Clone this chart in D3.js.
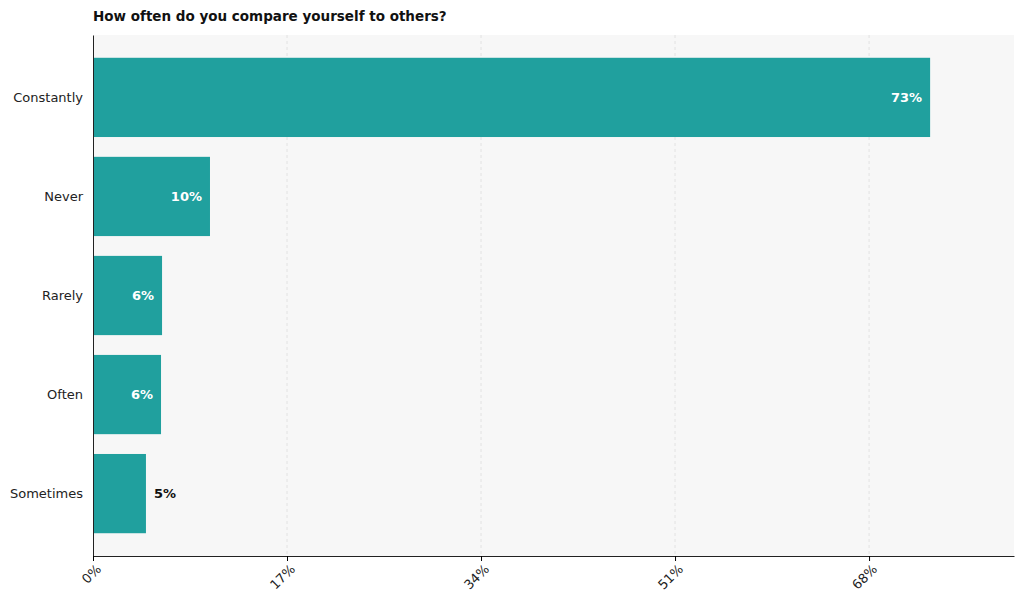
<!DOCTYPE html>
<html><head><meta charset="utf-8">
<script src="https://cdn.jsdelivr.net/npm/d3@7"></script>
<style>body{margin:0;background:#fff}svg{font-family:"DejaVu Sans",sans-serif}</style>
</head><body><div id="chart"></div>
<script>
const categories = ["Constantly", "Never", "Rarely", "Often", "Sometimes"];
const values = [73.35, 10.25, 6.05, 5.96, 4.64];
const labels = ["73%", "10%", "6%", "6%", "5%"];
const tickValues = [0, 17, 34, 51, 68];

const W = 1024, H = 609,
  margin = {top: 35, right: 10, bottom: 53, left: 93};

const svg = d3.select("#chart").append("svg").attr("width", W).attr("height", H);

const x = d3.scaleLinear().domain([0, 80.7]).range([margin.left, W - margin.right]);
const y = d3.scaleBand().domain(categories).range([margin.top, H - margin.bottom])
  .paddingInner(0.2).paddingOuter(0.23);

svg.append("rect").attr("x", margin.left).attr("y", margin.top)
  .attr("width", W - margin.right - margin.left).attr("height", H - margin.bottom - margin.top)
  .attr("fill", "#f7f7f7");

svg.append("g").selectAll("line").data(tickValues.slice(1)).join("line")
  .attr("x1", d => x(d)).attr("x2", d => x(d))
  .attr("y1", margin.top).attr("y2", H - margin.bottom)
  .attr("stroke", "#ddd").attr("stroke-dasharray", "3,3").attr("stroke-width", 0.8);

svg.append("g").selectAll("rect").data(values).join("rect")
  .attr("x", x(0)).attr("y", (d, i) => y(categories[i]))
  .attr("width", d => x(d) - x(0)).attr("height", y.bandwidth())
  .attr("fill", "#20a09e");

svg.append("g").selectAll("text").data(values).join("text")
  .attr("x", (d, i) => i === 4 ? x(d) + 8 : x(d) - 8)
  .attr("y", (d, i) => y(categories[i]) + y.bandwidth() / 2)
  .attr("dy", "0.35em")
  .attr("text-anchor", (d, i) => i === 4 ? "start" : "end")
  .attr("font-size", 13).attr("font-weight", "bold")
  .attr("fill", (d, i) => i === 4 ? "#111" : "#fff")
  .text((d, i) => labels[i]);

const yAxis = svg.append("g").attr("transform", `translate(${margin.left},0)`)
  .call(d3.axisLeft(y).tickSize(0).tickPadding(10));
yAxis.select(".domain").attr("stroke", "#222");
yAxis.selectAll("text").attr("font-size", 13).attr("fill", "#222").attr("font-family", "DejaVu Sans");

const xAxis = svg.append("g").attr("transform", `translate(0,${H - margin.bottom})`)
  .call(d3.axisBottom(x).tickValues(tickValues).tickFormat(d => d + "%").tickSize(5).tickSizeOuter(0));
xAxis.select(".domain").attr("stroke", "#222");
xAxis.selectAll("text").attr("font-size", 13).attr("fill", "#222").attr("font-family", "DejaVu Sans")
  .attr("text-anchor", "end").attr("transform", "rotate(-45)").attr("dx", "-0.3em").attr("dy", "0.6em");

svg.append("text").attr("x", margin.left).attr("y", 21)
  .attr("font-size", 13.5).attr("font-weight", "bold").attr("fill", "#111")
  .text("How often do you compare yourself to others?");
</script></body></html>
